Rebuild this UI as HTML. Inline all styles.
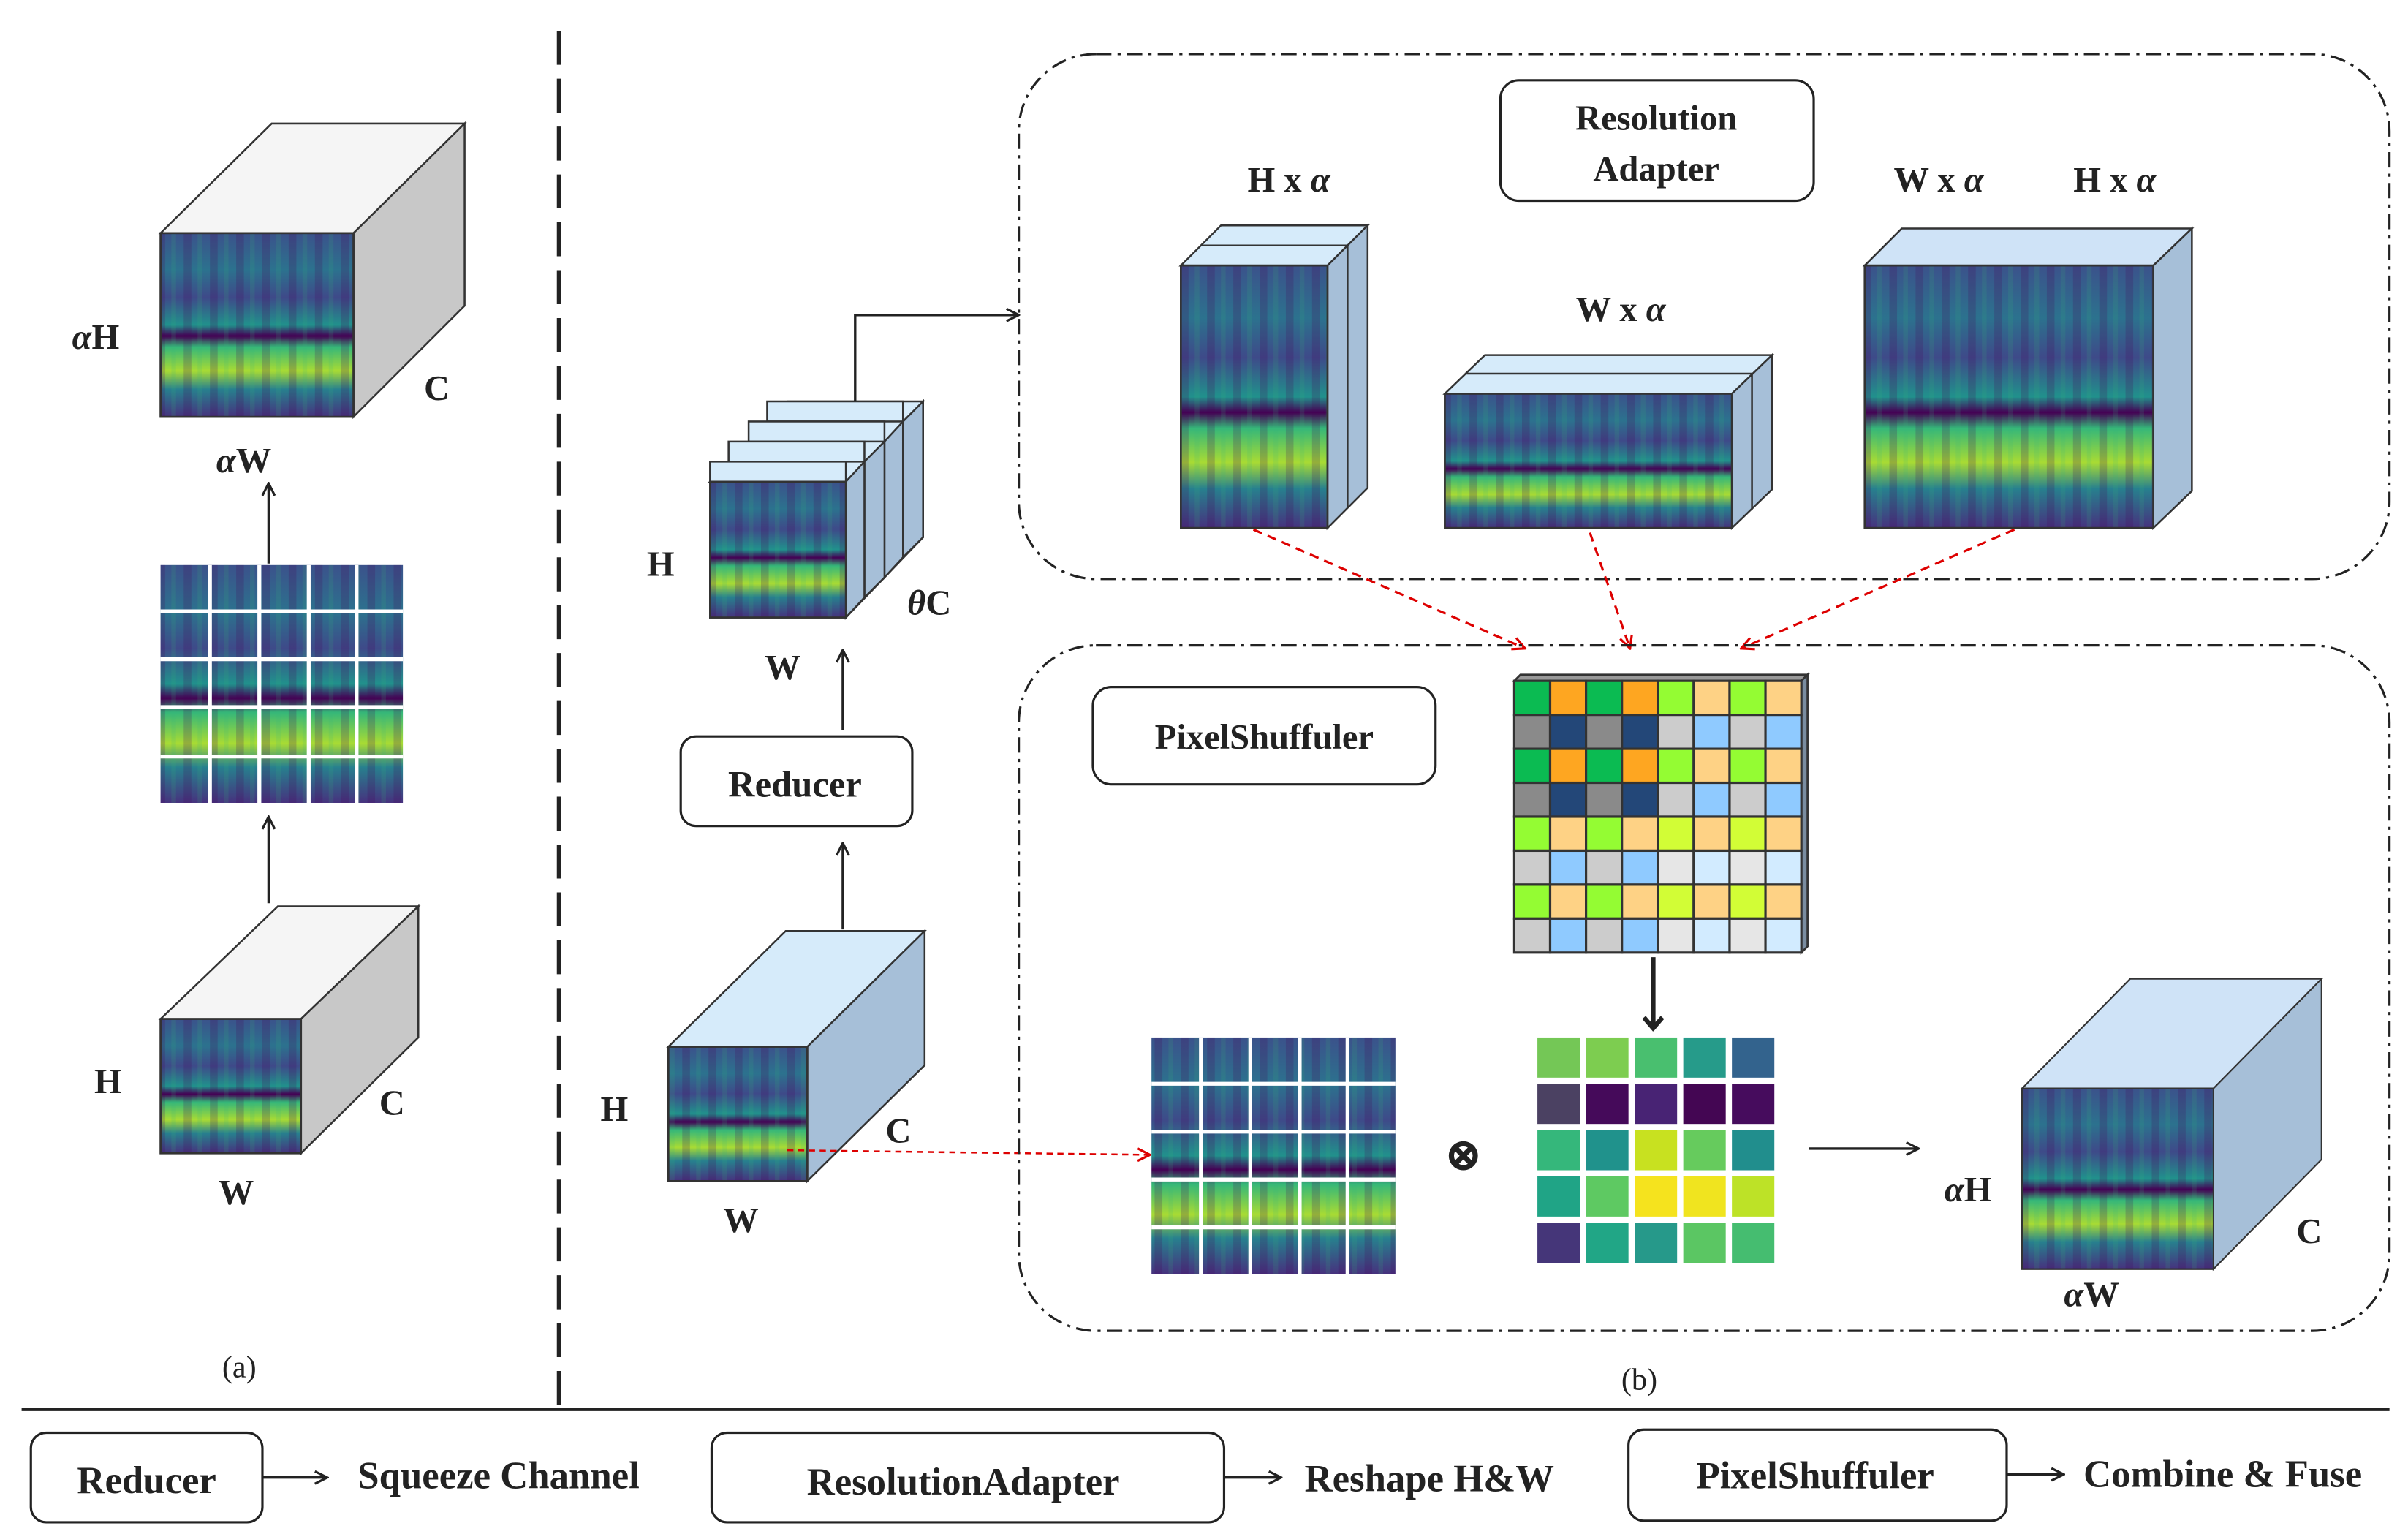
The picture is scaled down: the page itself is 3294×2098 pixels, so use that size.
<!DOCTYPE html>
<html><head><meta charset="utf-8"><style>
html,body{margin:0;padding:0;background:#fff;}
svg{display:block;}
text{font-family:"Liberation Serif","DejaVu Serif",serif;font-weight:bold;fill:#222;}
</style></head><body>
<svg width="3294" height="2098" viewBox="0 0 1560 993.6" xmlns="http://www.w3.org/2000/svg" font-family="Liberation Serif, DejaVu Serif, serif">
<defs>
<linearGradient id="sp" x1="0" y1="0" x2="0" y2="1">
<stop offset="0" stop-color="#3b528b"/><stop offset="0.2" stop-color="#2c728e"/>
<stop offset="0.35" stop-color="#3e4a89"/><stop offset="0.5" stop-color="#21918c"/>
<stop offset="0.56" stop-color="#440154"/><stop offset="0.62" stop-color="#35b779"/>
<stop offset="0.75" stop-color="#a8db34"/><stop offset="0.85" stop-color="#27808e"/>
<stop offset="1" stop-color="#46327e"/></linearGradient>
<pattern id="st" width="17" height="10" patternUnits="userSpaceOnUse">
<rect width="5" height="10" fill="#440154" opacity="0.2"/><rect x="9" width="3" height="10" fill="#35b779" opacity="0.15"/></pattern>
<marker id="ar" markerWidth="10" markerHeight="10" refX="9" refY="5" orient="auto" markerUnits="userSpaceOnUse"><path d="M1,1 L9,5 L1,9" fill="none" stroke="#222" stroke-width="1.5"/></marker>
<marker id="ra" markerWidth="10" markerHeight="10" refX="9" refY="5" orient="auto" markerUnits="userSpaceOnUse"><path d="M1,1 L9,5 L1,9" fill="none" stroke="#d00" stroke-width="1.5"/></marker>
<marker id="tk" markerWidth="14" markerHeight="14" refX="7" refY="12" orient="0" markerUnits="userSpaceOnUse"><path d="M1,5 L7,12 L13,5" fill="none" stroke="#222" stroke-width="3"/></marker>
</defs>
<g stroke="#333" stroke-width="1.2">
<line x1="362" y1="20" x2="362" y2="912" stroke="#222" stroke-width="2.5" stroke-dasharray="22,9"/>
<line x1="14" y1="913" x2="1548" y2="913" stroke="#222" stroke-width="2"/>

<polygon points="104,151 229,151 301,80 176,80" fill="#f5f5f5"/>
<polygon points="229,151 301,80 301,198 229,270" fill="#c8c8c8"/>
<rect x="104" y="151" width="125" height="119" fill="url(#sp)"/><rect x="104" y="151" width="125" height="119" fill="url(#st)" stroke="#333"/>
<rect x="104" y="366" width="157" height="154" fill="url(#sp)" stroke="none"/><rect x="104" y="366" width="157" height="154" fill="url(#st)" stroke="none"/>
<g stroke="#fff" stroke-width="2.5"><line x1="136" y1="366" x2="136" y2="520"/><line x1="168" y1="366" x2="168" y2="520"/><line x1="200" y1="366" x2="200" y2="520"/><line x1="231" y1="366" x2="231" y2="520"/>
<line x1="104" y1="396" x2="261" y2="396"/><line x1="104" y1="427" x2="261" y2="427"/><line x1="104" y1="458" x2="261" y2="458"/><line x1="104" y1="490" x2="261" y2="490"/></g>
<line x1="174" y1="365" x2="174" y2="313" stroke="#222" stroke-width="1.6" marker-end="url(#ar)"/>
<line x1="174" y1="585" x2="174" y2="529" stroke="#222" stroke-width="1.6" marker-end="url(#ar)"/>
<polygon points="104,660 195,660 271,587 180,587" fill="#f5f5f5"/>
<polygon points="195,660 271,587 271,672 195,747" fill="#c8c8c8"/>
<rect x="104" y="660" width="91" height="87" fill="url(#sp)"/><rect x="104" y="660" width="91" height="87" fill="url(#st)"/>

<g>
<polygon points="460,312 510,260 598,260 548,312" fill="#d6ebfa"/>
<polygon points="548,312 598,260 598,348 548,400" fill="#a6bfd8"/>
<rect x="497" y="260" width="88" height="13" fill="#d6ebfa"/>
<rect x="485" y="273" width="88" height="13" fill="#d6ebfa"/>
<rect x="472" y="286" width="88" height="13" fill="#d6ebfa"/>
<rect x="460" y="299" width="88" height="13" fill="#d6ebfa"/>
<polygon points="585,273 598,260 598,348 585,361" fill="#a6bfd8"/>
<polygon points="573,286 585,273 585,361 573,374" fill="#a6bfd8"/>
<polygon points="560,299 573,286 573,374 560,387" fill="#a6bfd8"/>
<polygon points="548,312 560,299 560,387 548,400" fill="#a6bfd8"/>
<rect x="460" y="312" width="88" height="88" fill="url(#sp)"/><rect x="460" y="312" width="88" height="88" fill="url(#st)"/>
</g>
<polyline points="554,260 554,204 660,204" fill="none" stroke="#222" stroke-width="1.6" marker-end="url(#ar)"/>
<line x1="546" y1="473" x2="546" y2="421" stroke="#222" stroke-width="1.6" marker-end="url(#ar)"/>
<rect x="441" y="477" width="150" height="58" rx="10" fill="#fff" stroke="#222" stroke-width="1.5"/>
<line x1="546" y1="602" x2="546" y2="546" stroke="#222" stroke-width="1.6" marker-end="url(#ar)"/>
<polygon points="433,678 523,678 599,603 509,603" fill="#d6ebfa"/>
<polygon points="523,678 599,603 599,690 523,765" fill="#a6bfd8"/>
<rect x="433" y="678" width="90" height="87" fill="url(#sp)"/><rect x="433" y="678" width="90" height="87" fill="url(#st)"/>
<line x1="510" y1="745" x2="745" y2="748" stroke="#d00" stroke-width="1.2" stroke-dasharray="4,3" marker-end="url(#ra)"/>

<rect x="660" y="35" width="888" height="340" rx="50" fill="none" stroke="#222" stroke-width="1.5" stroke-dasharray="10,4,2,4"/>
<rect x="972" y="52" width="203" height="78" rx="12" fill="#fff" stroke="#222" stroke-width="1.5"/>
<polygon points="765,172 791,146 886,146 860,172" fill="#d6ebfa"/>
<line x1="778" y1="159" x2="873" y2="159"/>
<polygon points="860,172 886,146 886,316 860,342" fill="#a6bfd8"/>
<line x1="873" y1="159" x2="873" y2="329"/>
<rect x="765" y="172" width="95" height="170" fill="url(#sp)"/><rect x="765" y="172" width="95" height="170" fill="url(#st)"/>
<polygon points="936,255 962,230 1148,230 1122,255" fill="#d6ebfa"/>
<line x1="949" y1="242" x2="1135" y2="242"/>
<polygon points="1122,255 1148,230 1148,317 1122,342" fill="#a6bfd8"/>
<line x1="1135" y1="242" x2="1135" y2="330"/>
<rect x="936" y="255" width="186" height="87" fill="url(#sp)"/><rect x="936" y="255" width="186" height="87" fill="url(#st)"/>
<polygon points="1208,172 1232,148 1420,148 1395,172" fill="#cfe3f7"/>
<polygon points="1395,172 1420,148 1420,318 1395,342" fill="#a6bfd8"/>
<rect x="1208" y="172" width="187" height="170" fill="url(#sp)"/><rect x="1208" y="172" width="187" height="170" fill="url(#st)"/>
<g stroke="#d00" stroke-width="1.5" stroke-dasharray="6,4" fill="none">
<line x1="812" y1="343" x2="988" y2="420" marker-end="url(#ra)"/>
<line x1="1030" y1="345" x2="1056" y2="420" marker-end="url(#ra)"/>
<line x1="1305" y1="343" x2="1128" y2="420" marker-end="url(#ra)"/>
</g>

<rect x="660" y="418" width="888" height="444" rx="50" fill="none" stroke="#222" stroke-width="1.5" stroke-dasharray="10,4,2,4"/>
<rect x="708" y="445" width="222" height="63" rx="12" fill="#fff" stroke="#222" stroke-width="1.5"/>
</g>
<g stroke="#333" stroke-width="1.3">
<polygon points="981,441 985,437 1171,437 1167,441" fill="#999"/>
<polygon points="1167,441 1171,437 1171,613 1167,617" fill="#7a8da0"/>
</g>
<g id="g8" stroke="#333" stroke-width="1.5"></g>
<g id="g5"></g>
<g stroke="#333">
<rect x="746" y="672" width="158" height="153" fill="url(#sp)" stroke="none"/><rect x="746" y="672" width="158" height="153" fill="url(#st)" stroke="none"/>
<g stroke="#fff" stroke-width="2.5"><line x1="778" y1="672" x2="778" y2="825"/><line x1="810" y1="672" x2="810" y2="825"/><line x1="842" y1="672" x2="842" y2="825"/><line x1="873" y1="672" x2="873" y2="825"/>
<line x1="746" y1="702" x2="904" y2="702"/><line x1="746" y1="733" x2="904" y2="733"/><line x1="746" y1="764" x2="904" y2="764"/><line x1="746" y1="795" x2="904" y2="795"/></g>
<line x1="1071" y1="620" x2="1071" y2="666" stroke="#222" stroke-width="3" marker-end="url(#tk)"/>
<line x1="1172" y1="744" x2="1243" y2="744" stroke="#222" stroke-width="1.6" marker-end="url(#ar)"/>
<polygon points="1310,705 1380,634 1504,634 1434,705" fill="#cfe3f7"/>
<polygon points="1434,705 1504,634 1504,751 1434,822" fill="#a6bfd8"/>
<rect x="1310" y="705" width="124" height="117" fill="url(#sp)"/><rect x="1310" y="705" width="124" height="117" fill="url(#st)"/>

<rect x="20" y="928" width="150" height="58" rx="10" fill="#fff" stroke="#222" stroke-width="1.5"/>
<line x1="170" y1="957" x2="212" y2="957" stroke="#222" stroke-width="1.6" marker-end="url(#ar)"/>
<rect x="461" y="928" width="332" height="58" rx="10" fill="#fff" stroke="#222" stroke-width="1.5"/>
<line x1="793" y1="957" x2="830" y2="957" stroke="#222" stroke-width="1.6" marker-end="url(#ar)"/>
<rect x="1055" y="926" width="245" height="59" rx="10" fill="#fff" stroke="#222" stroke-width="1.5"/>
<line x1="1300" y1="955" x2="1337" y2="955" stroke="#222" stroke-width="1.6" marker-end="url(#ar)"/>
</g>

<g font-size="23" font-weight="bold" font-family="Liberation Serif, DejaVu Serif, serif">
<text x="62" y="226" text-anchor="middle"><tspan font-style="italic">α</tspan>H</text>
<text x="283" y="259" text-anchor="middle">C</text>
<text x="158" y="306" text-anchor="middle"><tspan font-style="italic">α</tspan>W</text>
<text x="70" y="708" text-anchor="middle">H</text>
<text x="254" y="722" text-anchor="middle">C</text>
<text x="153" y="780" text-anchor="middle">W</text>
<text x="428" y="373" text-anchor="middle">H</text>
<text x="602" y="398" text-anchor="middle"><tspan font-style="italic">θ</tspan>C</text>
<text x="507" y="440" text-anchor="middle">W</text>
<text x="398" y="726" text-anchor="middle">H</text>
<text x="582" y="740" text-anchor="middle">C</text>
<text x="480" y="798" text-anchor="middle">W</text>
<text x="1275" y="778" text-anchor="middle"><tspan font-style="italic">α</tspan>H</text>
<text x="1496" y="805" text-anchor="middle">C</text>
<text x="1355" y="846" text-anchor="middle"><tspan font-style="italic">α</tspan>W</text>
<text x="835" y="124" text-anchor="middle">H x <tspan font-style="italic">α</tspan></text>
<text x="1050" y="208" text-anchor="middle">W x <tspan font-style="italic">α</tspan></text>
<text x="1256" y="124" text-anchor="middle">W x <tspan font-style="italic">α</tspan></text>
<text x="1370" y="124" text-anchor="middle">H x <tspan font-style="italic">α</tspan></text>
<text x="1073" y="84" text-anchor="middle">Resolution</text>
<text x="1073" y="117" text-anchor="middle">Adapter</text>
<text x="819" y="485" text-anchor="middle">PixelShuffuler</text>
<text x="515" y="516" text-anchor="middle" font-size="24">Reducer</text>
<text x="948" y="758" text-anchor="middle" font-size="30">⊗</text>
<text x="95" y="967" text-anchor="middle" font-size="25">Reducer</text>
<text x="323" y="964" text-anchor="middle" font-size="25">Squeeze Channel</text>
<text x="624" y="968" text-anchor="middle" font-size="25">ResolutionAdapter</text>
<text x="926" y="966" text-anchor="middle" font-size="25">Reshape H&amp;W</text>
<text x="1176" y="964" text-anchor="middle" font-size="25">PixelShuffuler</text>
<text x="1440" y="963" text-anchor="middle" font-size="25">Combine &amp; Fuse</text>
</g>
<g font-size="20" font-family="Liberation Serif, DejaVu Serif, serif">
<text x="155" y="892" text-anchor="middle" style="font-weight:normal">(a)</text>
<text x="1062" y="900" text-anchor="middle" style="font-weight:normal">(b)</text>
</g>
<script>
(function(){
var ns="http://www.w3.org/2000/svg";
var A="#0bbb52",O="#fea621",G="#8a8a8a",N="#234778",L="#94fc33",Y="#fed285",S="#cccccc",B="#8fcaff",Q="#d2fd36",W="#e6e6e6",P="#d2ebff";
var rows=[[A,O,A,O,L,Y,L,Y],[G,N,G,N,S,B,S,B],[A,O,A,O,L,Y,L,Y],[G,N,G,N,S,B,S,B],[L,Y,L,Y,Q,Y,Q,Y],[S,B,S,B,W,P,W,P],[L,Y,L,Y,Q,Y,Q,Y],[S,B,S,B,W,P,W,P]];
var g=document.getElementById("g8"),x0=981,y0=441,cw=23.25,ch=22;
for(var r=0;r<8;r++)for(var c=0;c<8;c++){var e=document.createElementNS(ns,"rect");e.setAttribute("x",x0+c*cw);e.setAttribute("y",y0+r*ch);e.setAttribute("width",cw);e.setAttribute("height",ch);e.setAttribute("fill",rows[r][c]);g.appendChild(e);}
var v=[["#74c756","#7dcd50","#49bf6f","#269b8a","#33638d"],["#4b4162","#450a5a","#482374","#440653","#460c5d"],["#35b77b","#20928c","#c8e120","#66cb5d","#218e8d"],["#20a486","#5ec962","#f5e31e","#f0e41f","#bde227"],["#453679","#21a686","#26998a","#5bc663","#45bd70"]];
var g5=document.getElementById("g5");
for(var r=0;r<5;r++)for(var c=0;c<5;c++){var e=document.createElementNS(ns,"rect");e.setAttribute("x",996+c*31.5);e.setAttribute("y",672+r*30);e.setAttribute("width",27.5);e.setAttribute("height",26);e.setAttribute("fill",v[r][c]);g5.appendChild(e);}
})();
</script>
</svg>
</body></html>
